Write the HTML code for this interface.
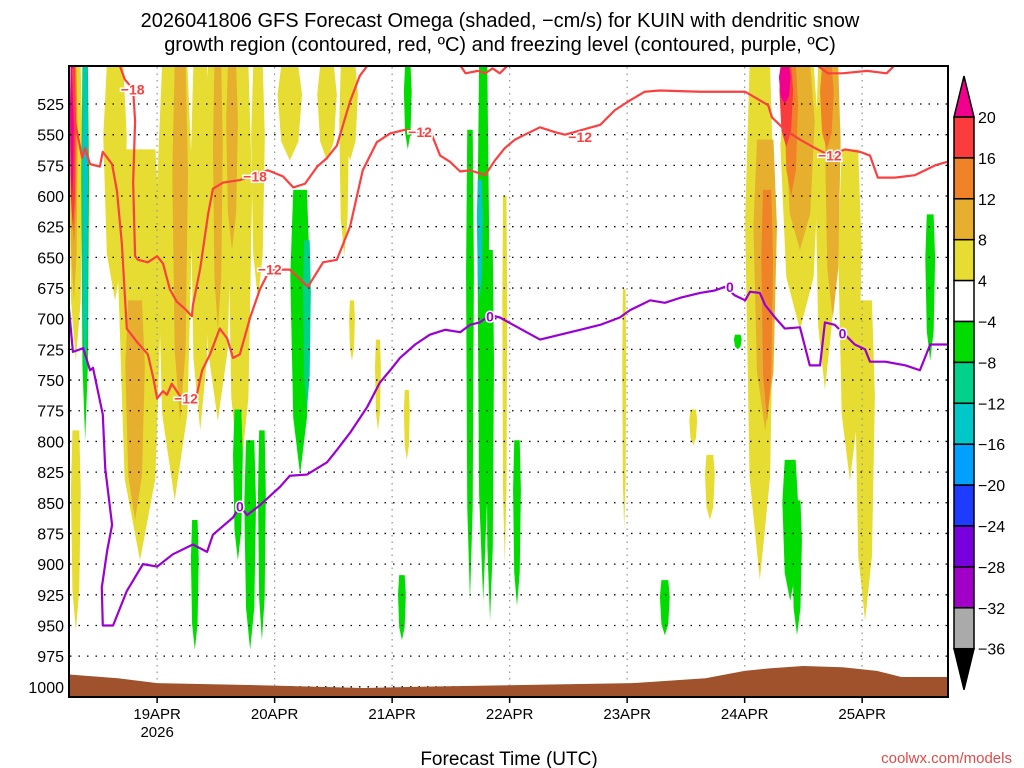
<!DOCTYPE html>
<html><head><meta charset="utf-8"><style>
body{margin:0;background:#fff}
svg{display:block;font-family:"Liberation Sans",sans-serif}
</style></head><body>
<svg id="chart" width="1024" height="768" viewBox="0 0 1024 768">
<text x="500" y="27" text-anchor="middle" font-size="20" fill="#000">2026041806 GFS Forecast Omega (shaded, −cm/s) for KUIN with dendritic snow</text>
<text x="500" y="51" text-anchor="middle" font-size="20" fill="#000">growth region (contoured, red, ºC) and freezing level (contoured, purple, ºC)</text>
<defs><clipPath id="plotclip"><rect x="69" y="66" width="879" height="631"/></clipPath></defs>
<g id="shading" clip-path="url(#plotclip)"></g>
<g id="grid"></g>
<g id="terrain" clip-path="url(#plotclip)"></g>
<g id="lines" clip-path="url(#plotclip)"></g>
<rect x="69" y="66" width="879" height="631" fill="none" stroke="#000" stroke-width="2"/>
<g id="axes"></g>
<g id="cbar"></g>
<text x="509" y="765" text-anchor="middle" font-size="19" fill="#000">Forecast Time (UTC)</text>
<text x="1012" y="763" text-anchor="end" font-size="15" fill="#e04a4a">coolwx.com/models</text>
</svg>
<script>
// data (hours since 18APR 06Z, pressure hPa)
const pressureTicks=[525,550,575,600,625,650,675,700,725,750,775,800,825,850,875,900,925,950,975,1000];
const dayLabels=["19APR","20APR","21APR","22APR","23APR","24APR","25APR"];
const dayHours=[18,42,66,90,114,138,162];
const cbarLabels=["20","16","12","8","4","−4","−8","−12","−16","−20","−24","−28","−32","−36"];
const cbarColors=["#fa3c3c","#f08228","#e6af2d","#e6dc32","#ffffff","#00dc00","#00d28c","#00c8c8","#00a0ff","#1e3cff","#7800dc","#a000c8","#aaaaaa"];
const levelColors={y:"#e6dc32",o:"#e6af2d",O:"#f08228",r:"#fa3c3c",m:"#f0008c",g:"#00dc00",t:"#00d28c",c:"#00c8c8"};
// blobs: [hour center, half-width hours, top p, bottom p, level]
const blobs=[
[1.4,1.4,494,734,"y"],[1.4,1,791,954,"y"],[9.4,2.4,494,685,"y"],[14.5,4.5,562,897,"y"],[21.6,3.7,494,848,"y"],
[26.8,2,494,791,"y"],[30.4,2.9,494,783,"y"],[34.9,2.5,494,832,"y"],[38.6,1.4,494,685,"y"],[45.1,2.5,494,571,"y"],
[52.7,2,494,571,"y"],[56.2,1,494,649,"y"],[57.4,1.6,494,571,"y"],[57.8,0.6,685,734,"y"],[63.1,0.6,717,791,"y"],[69,0.6,758,815,"y"],
[89,0.5,600,900,"y"],[113.4,0.4,676,872,"y"],[127.5,0.8,774,803,"y"],[130.9,1,811,864,"y"],
[141.1,3,494,913,"y"],[149.3,4,494,709,"y"],[154.4,2,494,758,"y"],[159.5,2.4,562,832,"y"],[162.6,2,685,946,"y"],
[1,0.8,494,685,"o"],[13.5,2,685,864,"o"],[22.7,1.6,494,783,"o"],[30.4,1,494,709,"o"],[33.3,1.2,494,644,"o"],
[142.2,2.4,554,791,"o"],[149.3,3,494,644,"o"],[156,1.6,494,700,"o"],
[1,0.6,494,640,"O"],[142.6,1.2,595,783,"O"],[154.8,1.4,494,562,"O"],[147.5,1.4,494,600,"O"],
[0.8,0.6,494,628,"r"],[146.5,1.4,494,560,"r"],[0.6,0.4,494,603,"m"],[146.2,1.2,494,525,"m"],
[3.3,0.8,494,799,"g"],[3.3,0.6,494,750,"c"],[47.2,2,595,827,"g"],[48.6,0.8,636,774,"t"],[34.5,1,774,897,"g"],[37,1.2,799,970,"g"],
[39.4,0.8,791,962,"g"],[25.7,0.8,864,970,"g"],[69.2,0.8,494,562,"g"],[68,0.8,909,962,"g"],[81.9,0.8,546,930,"g"],
[84.6,1.2,494,930,"g"],[83.9,0.6,587,685,"c"],[86,0.8,644,946,"g"],[91.5,0.8,799,934,"g"],[121.7,1,913,958,"g"],
[136.6,0.8,713,725,"g"],[147.3,1.6,815,930,"g"],[148.7,1,848,958,"g"],[175.9,1,615,734,"g"]];
const red12Hours=[0.8,1.2,2.7,3.3,4.3,6.3,6.9,8.8,9.8,10.8,11.8,13.9,16.1,17.2,18,19.2,20,21,22,23,26.1,27.2,28.8,30.8,32.3,33.5,34.9,37,39,41,45.1,48.8,51.9,54.7,57.4,60,62.9,65.6,68.6,74.1,75.8,77.8,79.9,81.9,85,87,89,91.1,93.1,96.2,99.3,101.3,108.5,111.5,114.6,117.6,120.7,128.9,138.1,141.1,142.8,143.6,146.2,149.3,152.4,155.4,158.5,161.6,163.6,165.2,168.7,172.8,176.9,179.5];
const red12P=[496,539,569,561,574,576,564,574,596,639,708,719,729,748,765,759,762,753,759,765,762,742,729,708,716,732,729,699,676,660,660,674,654,652,625,579,556,549,546,550,567,572,580,579,583,571,561,554,550,544,548,550,542,530,522,515,514,515,515,522,526,536,546,554,561,567,562,564,567,585,585,583,575,572];
const red18Hours=[10.4,11.4,13.1,13.5,13.1,13.5,14.1,16.1,18,19.2,20.6,22,23.7,25.1,25.3,26.8,28.4,29.4,31.5,34.9,40.6,43.7,45.8,48.2,50.7,52.7,54.7,57.4,59.4,60.9];
const red18P=[494,505,513,539,589,649,652,654,649,655,676,686,692,698,689,659,615,594,589,587,579,584,593,590,576,569,559,523,502,494];
const redTopHours=[[80,81,83.5,85,86.5,88,89.5],[153,155,158,163,167,168.5]];
const redTopP=[[494,500,498,500,496,500,494],[494,500,500,498,500,494]];
const frzHours=[0,0.8,2.9,4.3,4.9,6.9,7.4,8.8,7.8,6.7,6.9,9,11.8,15.1,18,21.2,25.3,28.2,29.4,33.5,34.9,36.4,39,43.1,45.1,48.6,52.7,54.7,57.4,60.9,63.5,65.6,67.6,70.7,73.7,76.8,79.9,81.9,83.9,86,88,92.1,96.2,100.3,104.4,108.5,112.5,114.6,118.7,121.7,124.8,128.9,131.9,134,136,138.1,139.1,141.1,142.2,144.2,146.2,149.3,151.3,153.4,154.4,156.4,158.5,160.5,162.6,163.6,166.7,170.8,173.8,175.9,179.5];
const frzP=[692,727,724,742,740,778,822,868,889,919,950,950,922,900,902,892,884,890,876,862,853,860,852,837,828,827,817,807,793,772,752,742,732,721,713,709,711,705,703,697,699,708,717,713,709,705,699,693,685,687,683,679,677,674,681,685,678,679,689,699,708,707,738,738,703,705,713,721,725,735,735,738,742,721,721];
const redLabels=[["−18",13,513],["−18",38,584],["−12",23.9,765],["−12",41,660],["−12",71.7,548],["−12",104.4,552],["−12",155.4,567]];
const frzLabels=[["0",34.9,853],["0",86,698],["0",135,674],["0",158,712]];
const terrainHours=[0,10,18,42,60,70,100,115,130,138,143,150,158,165,170,180];
const terrainP=[990,993,997,999,1001,1000,998,997,993,987,985,983,984,987,992,992];

const NS="http://www.w3.org/2000/svg";
const X=h=>69+h*4.896;
const Y=p=>104+(p-525)/0.815;
function mk(tag,attrs,parent){const e=document.createElementNS(NS,tag);for(const k in attrs)e.setAttribute(k,attrs[k]);parent.appendChild(e);return e;}
const shading=document.getElementById('shading');
blobs.forEach(b=>{
  const cx=X(b[0]),w=b[1]*4.896,t=Y(b[2]),bt=Y(b[3]),hgt=bt-t;
  const d=`M${cx-w*0.7},${t} L${cx+w*0.7},${t} L${cx+w},${t+hgt*0.3} L${cx+w*0.7},${t+hgt*0.8} L${cx},${bt} L${cx-w*0.7},${t+hgt*0.8} L${cx-w},${t+hgt*0.3}Z`;
  const e=mk('path',{d:d,fill:levelColors[b[4]]},shading);
  
  
});
const grid=document.getElementById('grid');
pressureTicks.forEach(p=>{
  const e=mk('line',{x1:70,x2:947,y1:Y(p),y2:Y(p),stroke:"#000","stroke-width":1.3,"stroke-dasharray":"1.5 7"},grid);
  
  
});
dayHours.forEach(h=>{
  const e=mk('line',{x1:X(h),x2:X(h),y1:67,y2:696,stroke:"#999","stroke-width":1.3,"stroke-dasharray":"1.5 5"},grid);
  
  
});
const terr=document.getElementById('terrain');
let td=`M${X(0)},${Y(1010)}`;terrainHours.forEach((h,i)=>td+=` L${X(h)},${Y(terrainP[i])}`);td+=` L${X(180)},${Y(1010)}Z`;
const te=mk('path',{d:td,fill:"#a0522d"},terr);


const lines=document.getElementById('lines');
function poly(hs,ps,color,name){
  const pts=hs.map((h,i)=>X(h)+","+Y(ps[i])).join(" ");
  const e=mk('polyline',{points:pts,fill:"none",stroke:color,"stroke-width":2.2,"stroke-linejoin":"round"},lines);
  
  
}
poly(red12Hours,red12P,"#fa4040","minus12-contour");
poly(red18Hours,red18P,"#fa4040","minus18-contour");
redTopHours.forEach((hs,i)=>poly(hs,redTopP[i],"#fa4040","top-contour"));
poly(frzHours,frzP,"#9b00d2","freezing-level-contour");
function label(arr,color,name){arr.forEach(l=>{
  const e=mk('text',{x:X(l[1]),y:Y(l[2])+5,"text-anchor":"middle","font-size":14,"font-weight":"bold",fill:color,stroke:"#fff","stroke-width":3,"paint-order":"stroke"},lines);
  e.textContent=l[0];
  
  
});}
label(redLabels,"#fa4040","contour-label");
label(frzLabels,"#9b00d2","freezing-label");
const axes=document.getElementById('axes');
pressureTicks.forEach(p=>{
  const e=mk('text',{x:64,y:Y(p)+6,"text-anchor":"end","font-size":16,fill:"#000"},axes);
  e.textContent=p;
  
  
});
dayLabels.forEach((d,i)=>{
  const e=mk('text',{x:X(dayHours[i]),y:719,"text-anchor":"middle","font-size":15,fill:"#000"},axes);
  e.textContent=d;
  
  
  const t=mk('line',{x1:X(dayHours[i]),x2:X(dayHours[i]),y1:697,y2:703,stroke:"#000","stroke-width":1.5},axes);
  
  
});
const yr=mk('text',{x:X(18),y:737,"text-anchor":"middle","font-size":15,fill:"#000"},axes);
yr.textContent="2026";


const cb=document.getElementById('cbar');
const cbTop=117,cbStep=40.9,cbX=954,cbW=20;
const tri=mk('path',{d:`M${cbX},${cbTop} L${cbX+cbW},${cbTop} L${cbX+cbW/2},${cbTop-41}Z`,fill:"#f0008c",stroke:"#000","stroke-width":1.5},cb);


cbarColors.forEach((c,i)=>{
  const e=mk('rect',{x:cbX,y:cbTop+i*cbStep,width:cbW,height:cbStep,fill:c,stroke:"#000","stroke-width":1.5},cb);
  
  
});
const bEnd=cbTop+cbarColors.length*cbStep;
const tri2=mk('path',{d:`M${cbX},${bEnd} L${cbX+cbW},${bEnd} L${cbX+cbW/2},${bEnd+41}Z`,fill:"#000",stroke:"#000","stroke-width":1.5},cb);


cbarLabels.forEach((l,i)=>{
  const e=mk('text',{x:978,y:cbTop+i*cbStep+6,"font-size":16,fill:"#000"},cb);
  e.textContent=l;
  
  
});
</script>
</body></html>
